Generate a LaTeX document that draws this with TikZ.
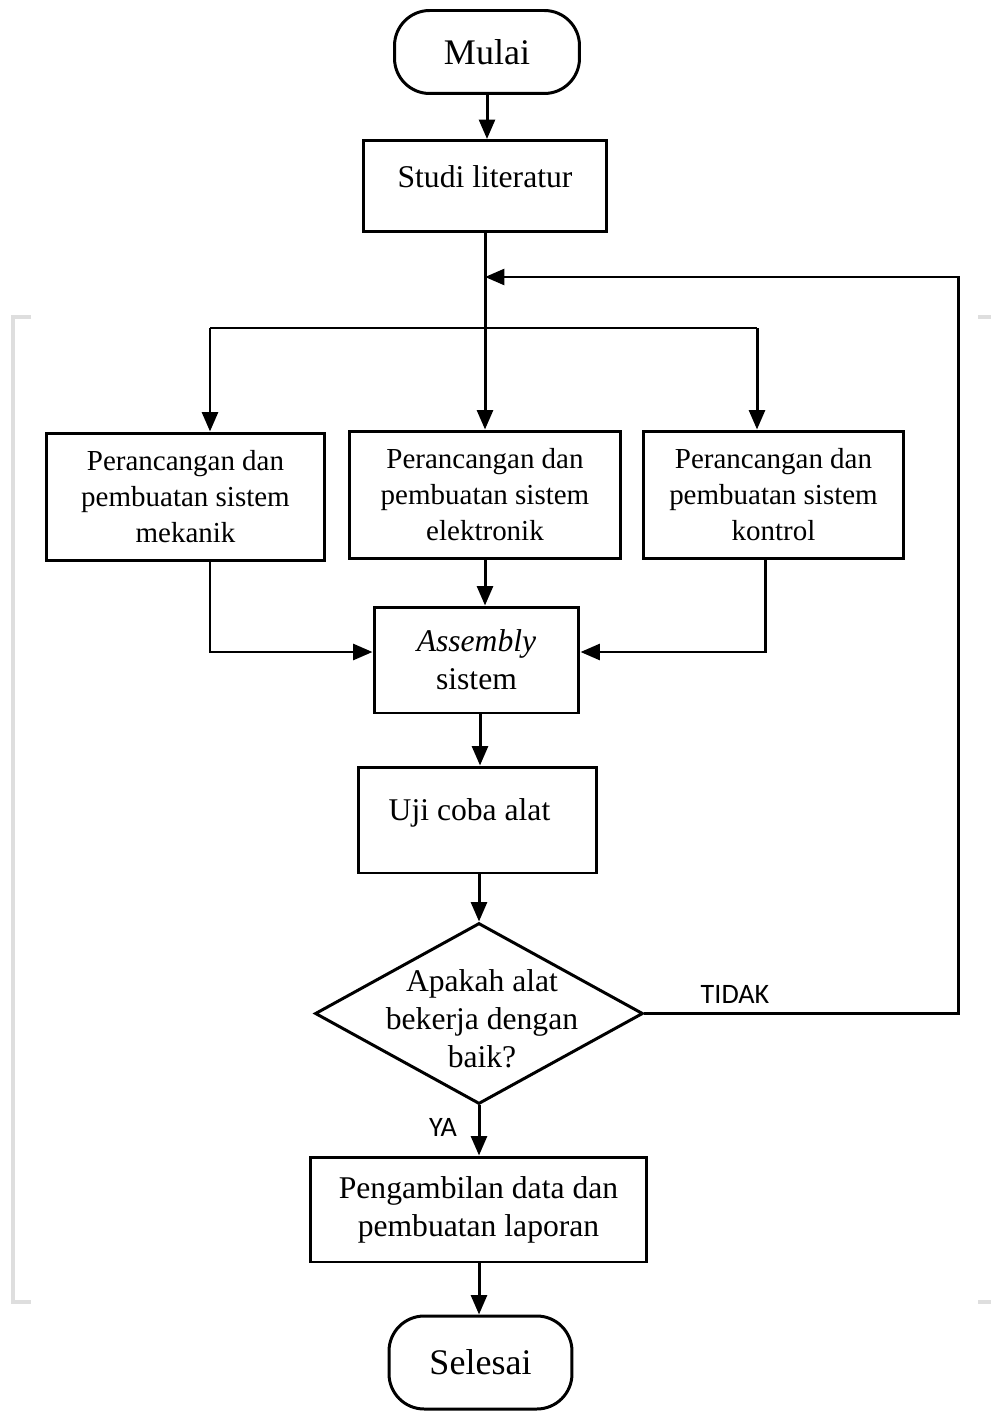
\documentclass[tikz,border=0pt]{standalone}
\usepackage{fontspec}
\setmainfont{Liberation Serif}
\newfontfamily\calibri{Carlito}
\usetikzlibrary{arrows.meta,shapes.geometric}

\tikzset{
  arr/.style={-{Triangle[length=11pt,width=9pt]}},
  box/.style={draw, line width=1.7pt, align=center, inner sep=0pt,
    font=\fontsize{18}{21.5}\selectfont},
  rancang/.style={box, font=\fontsize{16.5}{20.5}\selectfont},
  term/.style={box, rounded corners=20pt, font=\fontsize{20.5}{24}\selectfont},
  tanya/.style={box, diamond},
  jawab/.style={font=\calibri\fontsize{16}{18}\selectfont},
  crop/.style={draw=black!13, line width=2.4pt}
}

\begin{document}
\begin{tikzpicture}[x=0.02cm, y=-0.02cm, line width=1.7pt]

    \useasboundingbox (0,0) rectangle (991,1412);

    \node[term] (mulai) at (487,52) [minimum width=3.7cm, minimum height=1.66cm] {Mulai};
    \node[box] (studi) at (485,186) [minimum width=4.86cm, minimum height=1.82cm] {\raisebox{0.36cm}{Studi literatur}};
    \node[rancang] (meka) at (185.5,497) [minimum width=5.58cm, minimum height=2.56cm] {Perancangan dan\\pembuatan sistem\\mekanik};
    \node[rancang] (elek) at (485,495) [minimum width=5.44cm, minimum height=2.56cm] {Perancangan dan\\pembuatan sistem\\elektronik};
    \node[rancang] (kont) at (773.5,495) [minimum width=5.22cm, minimum height=2.56cm] {Perancangan dan\\pembuatan sistem\\kontrol};
    \node[box] (asm) at (476.5,660) [minimum width=4.1cm, minimum height=2.12cm] {\textit{Assembly}\\sistem};
    \node[box] (uji) at (477.5,820) [minimum width=4.78cm, minimum height=2.12cm] {\raisebox{0.4cm}{Uji coba alat}\hspace{0.32cm}};
    \node[tanya] (dec) at (479,1013.5) [minimum width=6.56cm, minimum height=3.62cm] {};
    \node[font=\fontsize{18}{21.5}\selectfont, align=center] (dectext) at (482,1019) {Apakah alat\\bekerja dengan\\baik?};
    \node[box] (data) at (478.5,1209.5) [minimum width=6.74cm, minimum height=2.1cm] {Pengambilan data dan\\pembuatan laporan};
    \node[term] (selesai) at (480.5,1362.5) [minimum width=3.66cm, minimum height=1.86cm] {Selesai};

    \node[jawab] (tidak) at (735,994) {TIDAK};
    \node[jawab] (ya) at (443,1127) {YA};

    \coordinate (bL) at (210,328);
    \coordinate (bR) at (757,328);
    \coordinate (dR) at (765,0);
    \coordinate (inY) at (0,652);
    \coordinate (fbR) at (958,277);
    \coordinate (fbL) at (485,277);

    % alur utama
    \draw [arr] (mulai) -- (mulai.south |- studi.north);
    \draw [arr] (studi.south) -- (studi.south |- elek.north);
    \draw (bL) -- (bR);
    \draw [arr] (bL) -- (bL |- meka.north);
    \draw [arr] (bR) -- (bR |- kont.north);
    \draw [arr] (elek.south) -- (elek.south |- asm.north);
    \draw [arr] (meka.south -| bL) |- (asm.west |- inY);
    \draw [arr] (kont.south -| dR) |- (asm.east |- inY);
    \draw [arr] (asm.south -| 480,0) -- (uji.north -| 480,0);
    \draw [arr] (uji.south -| dec.north) -- (dec.north);
    \draw [arr] (dec.south) -- (data.north -| dec.south);
    \draw [arr] (data.south -| dec.south) -- (selesai.north -| dec.south);

    % kembali
    \draw [arr] (dec.east) -| (fbR) -- (fbL);

    % tanda potong
    \draw [crop] (31,317) -- (13,317) -- (13,1302) -- (31,1302);
    \draw [crop] (978,317) -- (991,317);
    \draw [crop] (978,1302) -- (991,1302);

\end{tikzpicture}
\end{document}
